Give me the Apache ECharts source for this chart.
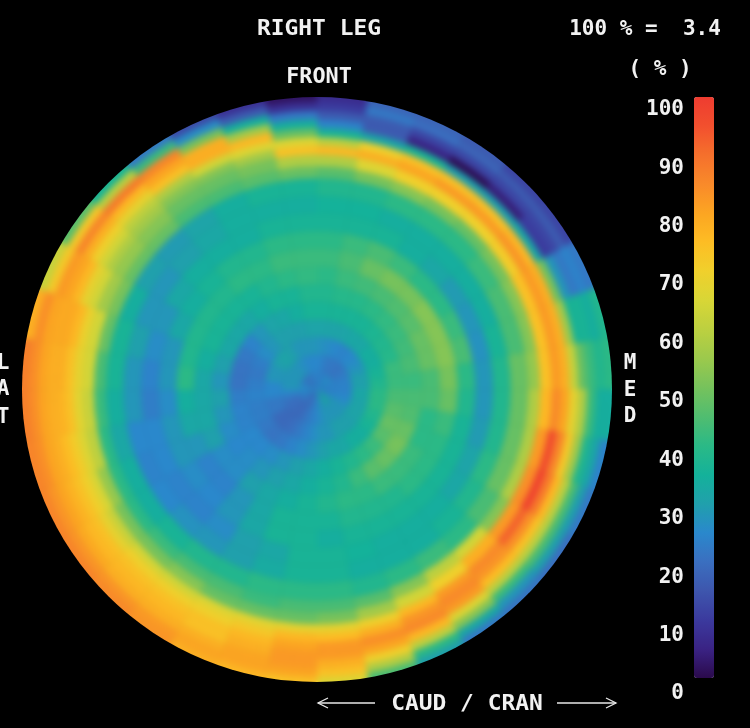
<!DOCTYPE html>
<html><head><meta charset="utf-8">
<style>html,body{margin:0;padding:0;background:#000}#c{width:750px;height:728px}
canvas[data-zr-dom-id="zr_0"]{filter:blur(3px);clip-path:ellipse(295px 292.5px at 317px 389.5px)}
canvas[data-zr-dom-id="zr_1"]{filter:blur(0.5px)}
</style>
<script src="https://cdn.jsdelivr.net/npm/echarts@6/dist/echarts.min.js"></script>
</head><body><div id="c"></div>
<script>
// radial ring edges, % of disc radius (last ring runs past the rim, the page clips it)
const ringEdges = [0,6,12,18,24,30,36,42,48,54,60,66,72,76,80,83,86,89,92,95,98,106];
// colour-bar ticks
const barTicks = [0,10,20,30,40,50,60,70,80,90,100];
// one list per 10-degree sector, clockwise from FRONT; each list runs centre -> rim
const s005=[26,27,29,33,38,40,42,44,42,38,37,40,48,60,78,62,38,26,18,12,9];
const s015=[25,25,28,33,38,41,44,46,44,38,37,40,52,68,80,72,34,18,18,24,20];
const s025=[26,24,27,33,38,41,45,50,46,38,36,42,54,72,82,76,38,7,14,22,20];
const s035=[27,24,26,34,38,42,46,52,44,36,36,42,52,72,84,76,32,3,14,20,18];
const s045=[28,23,27,34,39,43,47,52,42,34,36,42,50,72,84,76,32,6,14,18,14];
const s055=[28,24,28,36,40,44,48,54,42,31,36,44,52,73,85,78,34,12,14,18,14];
const s065=[27,25,30,36,41,45,50,54,44,30,36,46,54,76,84,80,52,30,24,26,24];
const s075=[26,26,32,38,44,46,50,54,46,29,38,46,54,76,84,80,58,38,38,36,40];
const s085=[26,26,32,40,44,44,46,52,42,30,40,50,56,76,84,80,64,50,44,40,42];
const s095=[26,26,34,42,46,46,46,50,40,30,40,50,60,78,87,82,70,60,44,36,36];
const s105=[26,27,33,42,48,47,42,44,38,31,40,50,60,84,98,88,74,58,40,34,26];
const s115=[28,28,33,40,50,50,42,42,38,33,42,50,60,86,100,90,78,62,46,32,24];
const s125=[30,30,33,38,48,52,44,42,38,34,40,46,54,84,94,86,76,62,46,32,22];
const s135=[32,30,32,36,44,50,44,42,38,36,38,42,66,80,87,85,77,62,44,30,23];
const s145=[33,30,32,36,42,48,44,40,38,36,36,44,62,72,84,87,84,68,54,34,24];
const s155=[32,30,32,34,40,44,42,40,38,36,36,42,54,66,78,85,87,78,62,42,32];
const s165=[30,30,30,34,38,40,42,40,38,37,36,40,48,58,72,80,86,82,72,60,46];
const s175=[28,28,30,32,36,38,40,38,36,38,38,42,46,52,70,77,84,84,80,76,68];
const s185=[26,26,28,30,34,36,38,38,38,38,38,42,46,50,70,78,82,84,84,82,76];
const s195=[24,25,26,28,32,34,36,38,38,34,35,42,44,50,69,74,78,80,82,82,78];
const s205=[22,23,24,26,30,32,34,34,34,32,32,40,46,50,68,72,76,76,80,82,80];
const s215=[22,21,22,24,28,30,32,30,30,28,30,40,46,54,66,72,76,78,80,84,85];
const s225=[23,21,21,23,27,28,28,26,27,26,29,38,44,52,66,72,76,78,80,85,87];
const s235=[24,22,21,24,27,27,28,26,28,26,27,36,42,52,64,70,76,78,81,85,88];
const s245=[25,22,24,25,26,28,32,30,30,27,26,36,42,56,67,72,76,79,82,85,88];
const s255=[26,24,24,25,26,30,34,34,30,27,27,34,42,62,68,73,77,80,82,86,88];
const s265=[27,27,27,26,25,32,34,36,28,25,30,36,44,64,69,76,79,80,82,86,89];
const s275=[28,30,27,25,23,30,34,42,30,26,30,38,46,66,70,76,80,80,82,86,89];
const s285=[27,30,30,24,23,32,36,40,30,28,32,38,50,66,71,78,81,81,82,86,80];
const s295=[25,30,30,25,24,34,38,40,34,30,30,36,52,58,66,70,78,82,84,74,64];
const s305=[24,30,32,28,26,34,38,40,36,34,30,32,50,56,60,66,72,80,88,74,48];
const s315=[24,30,33,30,30,34,38,40,38,36,32,31,50,54,58,62,70,78,90,62,38];
const s325=[24,29,32,32,33,36,38,42,40,36,34,33,46,50,54,60,76,82,88,44,24];
const s335=[24,28,30,32,34,38,40,42,40,36,36,36,46,50,54,66,80,80,52,28,15];
const s345=[25,27,30,32,36,38,42,44,42,38,36,38,48,52,58,68,78,58,36,18,10];
const s355=[26,27,30,33,38,40,43,44,42,38,36,38,50,60,76,68,50,36,24,10,4];
const sectors=[s005,s015,s025,s035,s045,s055,s065,s075,s085,s095,s105,s115,s125,s135,s145,s155,s165,s175,
               s185,s195,s205,s215,s225,s235,s245,s255,s265,s275,s285,s295,s305,s315,s325,s335,s345,s355];
const sectorWidth=10;

const cells=[];
sectors.forEach((vals,i)=>vals.forEach((v,j)=>{
  cells.push([ringEdges[j],ringEdges[j+1],i*sectorWidth,(i+1)*sectorWidth,v]);
}));

const FONT='"DejaVu Sans Mono"';
function label(text,cx,cy,sx){
  return {type:'text',x:cx,y:cy,scaleX:sx||1,silent:true,zlevel:1,originX:0,originY:0,
    style:{text:text,fill:'#f2f2f2',font:'bold 21px '+FONT,align:'center',verticalAlign:'middle'}};
}
function arrow(x0,x1,y){
  const d=x1>x0?-1:1;
  return [{type:'line',silent:true,zlevel:1,shape:{x1:x0,y1:y,x2:x1,y2:y},style:{stroke:'#e8e8e8',lineWidth:1.3}},
          {type:'polyline',silent:true,zlevel:1,shape:{points:[[x1+d*10,y-5],[x1,y],[x1+d*10,y+5]]},style:{stroke:'#e8e8e8',lineWidth:1.3,fill:null}}];
}
const chart=echarts.init(document.getElementById('c'),null,{renderer:'canvas'});
chart.setOption({
  backgroundColor:'transparent',animation:false,
  polar:{center:[317,389.5],radius:294*1.06},
  angleAxis:{show:false,type:'value',min:0,max:360,startAngle:90,clockwise:true},
  radiusAxis:{show:false,type:'value',min:0,max:106},
  grid:{left:694,width:20,top:98,height:596},
  xAxis:{show:false,type:'value',min:0,max:1},
  yAxis:{type:'value',min:0,max:102,interval:10,zlevel:1,
    axisLine:{show:false},axisTick:{show:false},splitLine:{show:false},
    axisLabel:{color:'#f2f2f2',margin:10,fontFamily:FONT,fontWeight:'bold',fontSize:21,
      formatter:v=>barTicks.includes(v)?String(v):''}},
  visualMap:{type:'continuous',seriesIndex:0,dimension:4,min:2,max:102,calculable:false,realtime:false,zlevel:1,
    left:694,top:97,itemWidth:20,itemHeight:581,padding:0,text:null,showLabel:false,
    hoverLink:false,orient:'vertical',align:'auto',
    inRange:{color:['#2b0a4c','#3a2384','#3b3a9e','#3e56ad','#3a6fc0','#2a88cc','#20a0ac','#14b29a','#2bb986','#50bd70','#76c25c','#9cc94c','#bcd040','#d8d636','#f0d02c','#fdbd24','#fca522','#f98a2a','#f5702c','#f2502e','#ee3c30']}},
  series:[{type:'custom',coordinateSystem:'polar',data:cells,silent:true,zlevel:0,
    dimensions:['r0','r1','a0','a1','pct'],
    encode:{radius:0,angle:2},
    renderItem:function(params,api){
      const cx=params.coordSys.cx,cy=params.coordSys.cy;
      const r0=api.value(0),r1=api.value(1),a0=api.value(2),a1=api.value(3);
      const pIn=api.coord([r0,a0]),pS=api.coord([r1,a0]),pE=api.coord([r1,a1]);
      const ri=Math.hypot(pIn[0]-cx,pIn[1]-cy),ro=Math.hypot(pS[0]-cx,pS[1]-cy);
      const st=Math.atan2(pS[1]-cy,pS[0]-cx);let en=Math.atan2(pE[1]-cy,pE[0]-cx);
      if(en<st)en+=Math.PI*2;
      const col=api.visual('color');
      return {type:'sector',shape:{cx:cx,cy:cy,r0:ri,r:ro,startAngle:st,endAngle:en,clockwise:true},
        style:{fill:col,stroke:col,lineWidth:0.6}};
    }}],
  graphic:{elements:[
    label('RIGHT LEG',319,30,1.09),
    label('100 % =  3.4',645,30,1.0),
    label('( % )',660,70,1.0),
    label('FRONT',319,78,1.04),
    label('L',3,364),label('A',3,390),label('T',3,418),
    label('M',630,364),label('E',630,391),label('D',630,417),
    label('CAUD / CRAN',467,705,1.09),
    ...arrow(375,318,703),...arrow(557,616,703)
  ]}
});
</script></body></html>
